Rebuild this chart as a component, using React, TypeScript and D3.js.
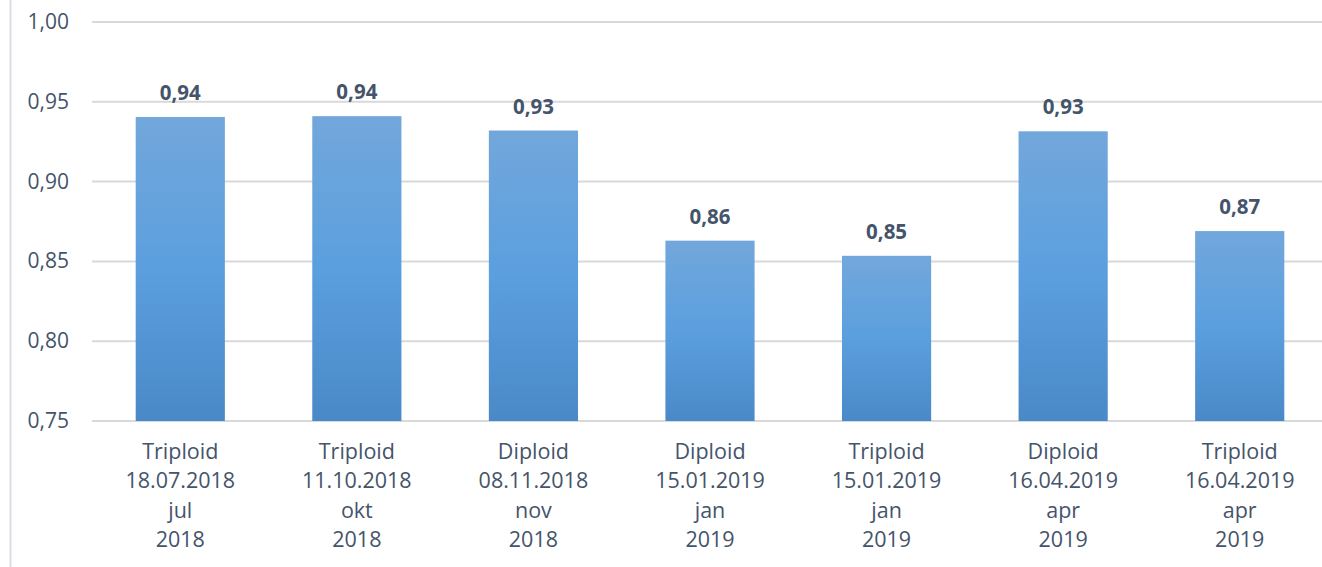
import React from 'react';
import * as d3 from 'd3';

const types = ['Triploid', 'Triploid', 'Diploid', 'Diploid', 'Triploid', 'Diploid', 'Triploid'];
const dates = ['18.07.2018', '11.10.2018', '08.11.2018', '15.01.2019', '15.01.2019', '16.04.2019', '16.04.2019'];
const months = ['jul', 'okt', 'nov', 'jan', 'jan', 'apr', 'apr'];
const years = ['2018', '2018', '2018', '2019', '2019', '2019', '2019'];
const values = [0.9405, 0.941, 0.932, 0.863, 0.8535, 0.9315, 0.869];
const yTicks = [0.75, 0.8, 0.85, 0.9, 0.95, 1.0];

const W = 1322;
const H = 567;
const textColor = '#44546a';
const font = '"Open Sans", "Liberation Sans", Arial, sans-serif';

const fmt = (v: number) => v.toFixed(2).replace('.', ',');

export default function App() {
  const idx = d3.range(values.length);
  const x = d3.scaleBand<number>().domain(idx).range([92, 1328]).paddingInner(0.495).paddingOuter(0.2475);
  const y = d3.scaleLinear().domain([0.75, 1.0]).range([421, 22]);

  return (
    <svg width={W} height={H} style={{ position: 'absolute', left: 0, top: 0, background: '#fff' }}>
      <defs>
        <linearGradient id="barGrad" x1="0" y1="0" x2="0" y2="1">
          <stop offset="0" stopColor="#72a7db" />
          <stop offset="0.5" stopColor="#5b9fdf" />
          <stop offset="1" stopColor="#4a89c8" />
        </linearGradient>
      </defs>
      <line x1={10.5} x2={10.5} y1={0} y2={H} stroke="#d9dde6" strokeWidth={2} />
      {yTicks.map((t) => (
        <g key={t}>
          <line x1={92} x2={W} y1={y(t)} y2={y(t)} stroke="#d9d9d9" strokeWidth={2} />
          <text x={69} y={y(t) + 7} textAnchor="end" fontFamily={font} fontSize={21} fill={textColor}>
            {fmt(t)}
          </text>
        </g>
      ))}
      {idx.map((i) => {
        const bx = x(i)!;
        const cx = bx + x.bandwidth() / 2;
        const top = y(values[i]);
        return (
          <g key={i}>
            <rect x={bx} y={top} width={x.bandwidth()} height={y(0.75) - top} fill="url(#barGrad)" />
            <text x={cx} y={top - 17} textAnchor="middle" fontFamily={font} fontSize={20.5} fontWeight="bold" fill={textColor}>
              {fmt(values[i])}
            </text>
            {[types[i], dates[i], months[i], years[i]].map((s, j) => (
              <text key={j} x={cx} y={459 + j * 29.3} textAnchor="middle" fontFamily={font} fontSize={21.5} fill={textColor}>
                {s}
              </text>
            ))}
          </g>
        );
      })}
    </svg>
  );
}
